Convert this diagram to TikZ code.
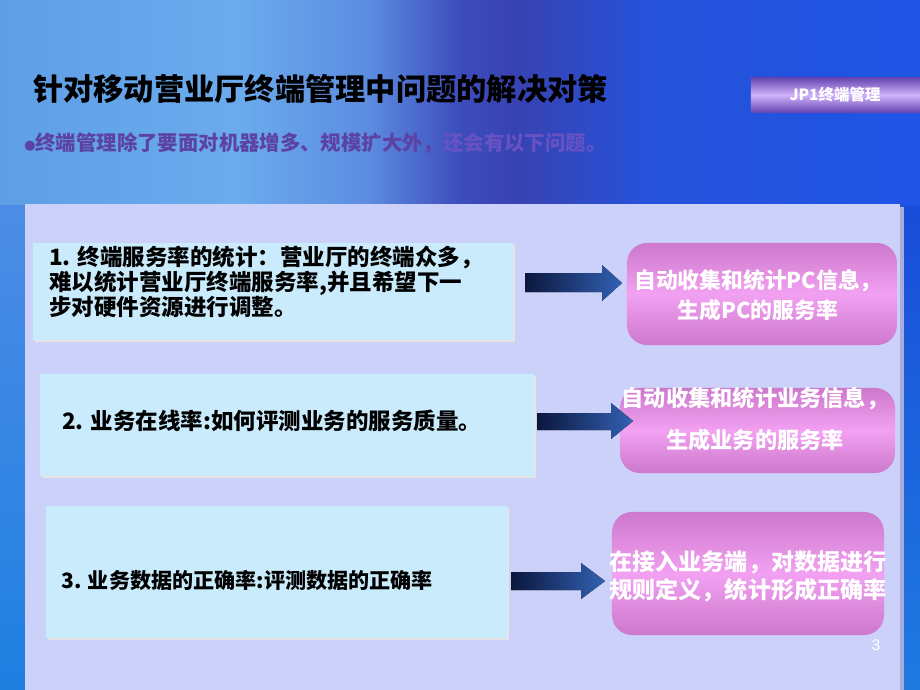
\documentclass[tikz,border=0pt]{standalone}
\usepackage{fontspec}
\setsansfont{Liberation Sans}
\newfontfamily\cjk{Noto Sans CJK SC}
\usetikzlibrary{positioning}

\definecolor{panelcol}{rgb}{0.80,0.82,0.98}
\definecolor{boxcyan}{rgb}{0.79,0.92,0.99}
\definecolor{pinkdark}{rgb}{0.80,0.47,0.80}
\definecolor{pinklight}{rgb}{0.95,0.63,0.95}
\definecolor{navy}{rgb}{0.04,0.09,0.24}
\definecolor{arrowblue}{rgb}{0.20,0.38,0.70}
\definecolor{subcol}{rgb}{0.36,0.26,0.64}
\definecolor{subfade}{rgb}{0.40,0.32,0.76}
\definecolor{jpdark}{rgb}{0.40,0.28,0.70}
\definecolor{jplight}{rgb}{0.82,0.70,0.98}

\pgfdeclarehorizontalshading{bgshade}{100bp}{rgb(0bp)=(0.37,0.62,0.90); rgb(25bp)=(0.37,0.62,0.90); rgb(38bp)=(0.42,0.67,0.93); rgb(45bp)=(0.36,0.55,0.88); rgb(50bp)=(0.24,0.30,0.74); rgb(53bp)=(0.22,0.26,0.70); rgb(60bp)=(0.15,0.32,0.85); rgb(75bp)=(0.12,0.33,0.90); rgb(100bp)=(0.12,0.33,0.90)}

\tikzset{
  qbox/.style={rectangle, fill=boxcyan, inner sep=0pt},
  qtext/.style={font=\cjk\bfseries\fontsize{16}{18}\selectfont, align=left, inner sep=0pt, text=black},
  abox/.style={rectangle, rounded corners=0.5cm, top color=pinkdark, bottom color=pinkdark, middle color=pinklight, inner sep=0pt},
  atext/.style={font=\cjk\bfseries\fontsize{15.5}{21}\selectfont, align=center, inner sep=0pt, text=white},
  blockarrow/.style={left color=navy, right color=arrowblue},
}

\begin{document}
\begin{tikzpicture}[x=0.025cm, y=-0.025cm]
\useasboundingbox (0,0) rectangle (920,690);
% background
\fill[shading=bgshade] (0,0) rectangle (920,690);
\fill[top color={rgb,1:red,0.30;green,0.55;blue,0.90}, bottom color={rgb,1:red,0.12;green,0.50;blue,0.88}] (0,205) rectangle (25,690);
\fill[top color={rgb,1:red,0.10;green,0.30;blue,0.85}, bottom color={rgb,1:red,0.12;green,0.48;blue,0.88}] (903,205) rectangle (920,690);

% title
\node[font=\cjk\bfseries\fontsize{21.5}{24}\selectfont, anchor=west, inner sep=0pt] (title) at (33,89) {针对移动营业厅终端管理中问题的解决对策};
\node[font=\cjk\bfseries\fontsize{14.5}{16}\selectfont, text=subcol, anchor=west, inner sep=0pt] (sub) at (24,143) {{\fontsize{8}{9}\selectfont ●}终端管理除了要面对机器增多、规模扩大外，{\color{subfade}还会有以下问题。}};

% tag
\node[rectangle, inner sep=0pt, minimum width=4.225cm, minimum height=0.85cm, top color=jpdark, bottom color=jpdark, middle color=jplight] (tag) at (835.5,95) {};
\node[font=\cjk\bfseries\fontsize{11}{12}\selectfont, text=white, inner sep=0pt] (tagtext) at (835,95) {JP1终端管理};

% panel
\fill[color={rgb,1:red,0.66;green,0.68;blue,0.86}] (900,207) rectangle (904,690);
\fill[panelcol] (25,204) rectangle (900,690);

% problems
\fill[black!10] (35,245) rectangle (515,342);
\node[qbox, minimum width=12cm, minimum height=2.425cm] (q1) at (273,291.5) {};
\node[qtext, anchor=west] (q1t) at (49,282) {1. 终端服务率的统计：营业厅的终端众多，\\难以统计营业厅终端服务率,并且希望下一\\步对硬件资源进行调整。};

\fill[black!10] (42,376) rectangle (536,478);
\node[qbox, minimum width=12.35cm, minimum height=2.55cm] (q2) at (287,425) {};
\node[qtext, anchor=west] (q2t) at (62,421) {2. 业务在线率:如何评测业务的服务质量。};

\fill[black!10] (48,508) rectangle (509,640);
\node[qbox, minimum width=11.525cm, minimum height=3.3cm] (q3) at (276.5,572) {};
\node[qtext, anchor=west, font=\cjk\bfseries\fontsize{15}{18}\selectfont] (q3t) at (61,580) {3. 业务数据的正确率:评测数据的正确率};

% answers
\node[abox, minimum width=6.75cm, minimum height=2.55cm] (a1) at (762,294) {};
\node[atext] (a1t) at (758,295) {自动收集和统计PC信息，\\生成PC的服务率};

\node[abox, minimum width=6.875cm, minimum height=2.125cm] (a2) at (757.5,430.5) {};
\node[atext, font=\cjk\bfseries\fontsize{15.8}{30}\selectfont] (a2t) at (755,419) {自动收集和统计业务信息，\\生成业务的服务率};

\node[abox, minimum width=6.8cm, minimum height=3.075cm] (a3) at (748,573.5) {};
\node[atext, font=\cjk\bfseries\fontsize{16.4}{20}\selectfont] (a3t) at (748,576) {在接入业务端，对数据进行\\规则定义，统计形成正确率};

% arrows
\fill[blockarrow] (525,273) -- (602,273) -- (602,265) -- (622,283) -- (602,301) -- (602,292) -- (525,292) -- cycle;
\fill[blockarrow] (537,413) -- (611,413) -- (611,403) -- (633,421) -- (611,439) -- (611,430) -- (537,430) -- cycle;
\fill[blockarrow] (511,572) -- (581,572) -- (581,563) -- (605,581) -- (581,599) -- (581,590) -- (511,590) -- cycle;

% page number
\node[font=\sffamily\fontsize{11}{12}\selectfont, text=white, inner sep=0pt] (page) at (876,645) {3};
\end{tikzpicture}
\end{document}
